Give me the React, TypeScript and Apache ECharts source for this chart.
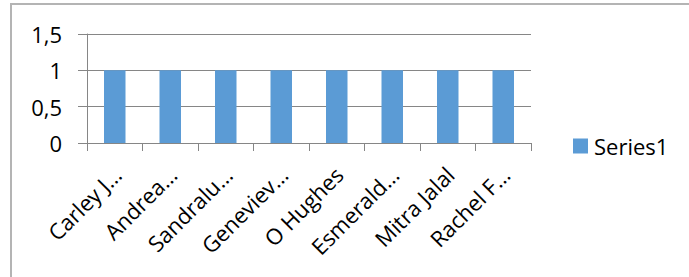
import React, { useEffect, useRef } from "react";
import * as echarts from "echarts";

const categories = [
  "Carley J…",
  "Andrea…",
  "Sandralu…",
  "Geneviev…",
  "O Hughes",
  "Esmerald…",
  "Mitra Jalal",
  "Rachel F…",
];
const series1 = [1, 1, 1, 1, 1, 1, 1, 1];
const seriesName = "Series1";
const yTicks = [0, 0.5, 1, 1.5];

const FONT = "'Open Sans', sans-serif";

export default function App() {
  const ref = useRef<HTMLDivElement>(null);
  useEffect(() => {
    document.body.style.margin = "0";
    const chart = echarts.init(ref.current!, null, { renderer: "svg" });
    chart.setOption({
      animation: false,
      backgroundColor: "#ffffff",
      textStyle: { fontFamily: FONT },
      graphic: [
        {
          type: "rect",
          shape: { x: 11, y: 4, width: 720, height: 320 },
          style: { fill: "none", stroke: "#b4b4b4", lineWidth: 2 },
          silent: true,
        },
      ],
      grid: { left: 87, top: 34, right: 158, bottom: 134 },
      legend: {
        left: 573,
        top: 135,
        padding: 0,
        itemWidth: 15,
        itemHeight: 15,
        icon: "rect",
        itemGap: 6,
        textStyle: { fontSize: 22, lineHeight: 15, color: "#000", fontFamily: FONT, padding: [0, 0, 0, 1] },
        data: [seriesName],
      },
      xAxis: {
        type: "category",
        data: categories,
        axisLine: { lineStyle: { color: "#868686", width: 1 } },
        axisTick: { show: true, length: 8, lineStyle: { color: "#868686" } },
        axisLabel: {
          rotate: 45,
          interval: 0,
          margin: 14,
          fontSize: 22,
          color: "#000",
          fontFamily: FONT,
          align: "right",
          verticalAlign: "top",
          padding: [0, 8, 0, 0],
        },
      },
      yAxis: {
        type: "value",
        min: yTicks[0],
        max: yTicks[yTicks.length - 1],
        interval: yTicks[1] - yTicks[0],
        axisLine: { show: true, lineStyle: { color: "#868686", width: 1 } },
        axisTick: { show: true, length: 9, lineStyle: { color: "#868686" } },
        splitLine: { lineStyle: { color: "#868686", width: 1 } },
        axisLabel: {
          margin: 25,
          fontSize: 22,
          color: "#000",
          fontFamily: FONT,
          formatter: (v: number) => String(v).replace(".", ","),
        },
      },
      series: [
        {
          name: seriesName,
          type: "bar",
          data: series1,
          barWidth: 21.5,
          itemStyle: { color: "#5b9bd5" },
        },
      ],
    });
    return () => chart.dispose();
  }, []);
  return <div ref={ref} style={{ width: 689, height: 277 }} />;
}
